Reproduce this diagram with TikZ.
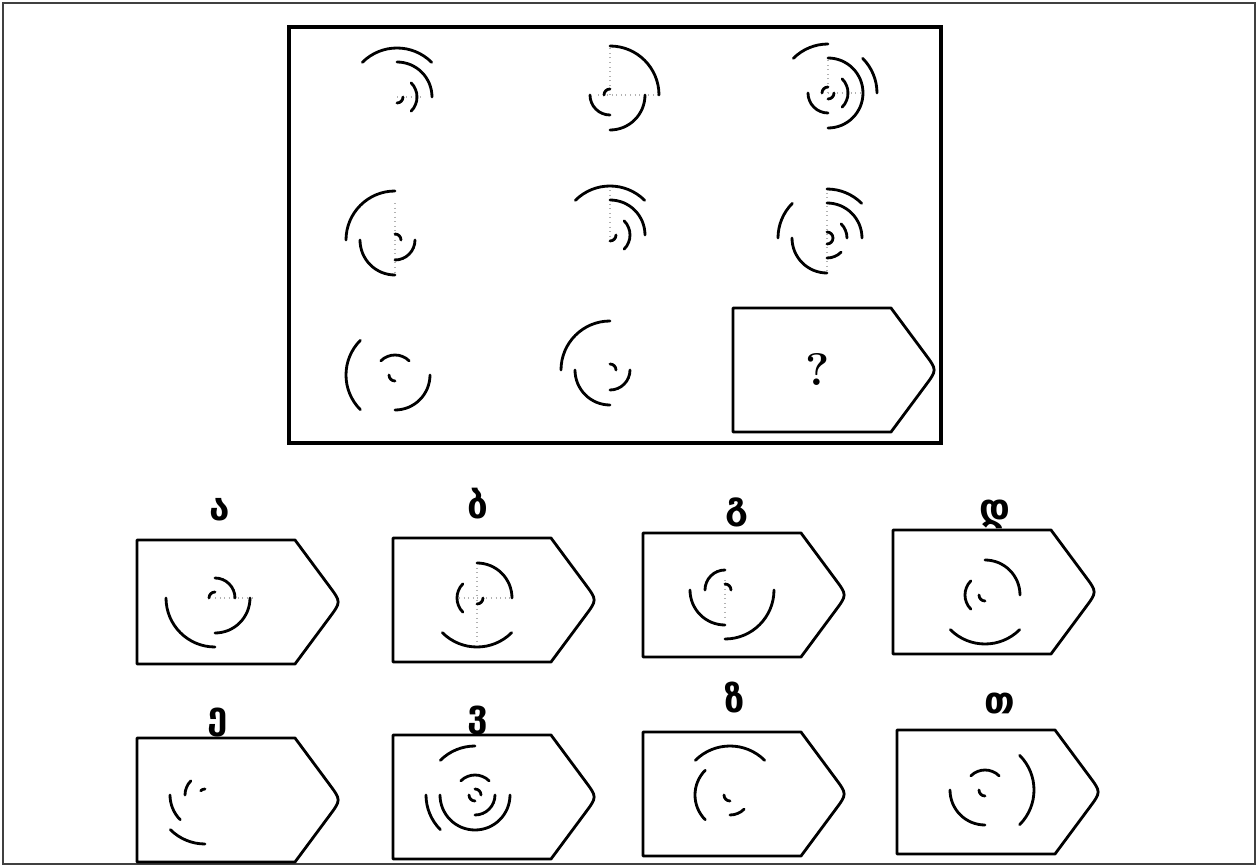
\documentclass[tikz,border=0pt]{standalone}
\usepackage{fontspec}
\usepackage{tikz}
\usetikzlibrary{calc,positioning}
\newfontfamily\geofont{DejaVu Sans}
% tag-shaped answer frame: name, left, top
\newcommand{\tagbox}[3]{%
  \draw[frame] (#2,#3) coordinate (#1) -- ({#2+158},#3) -- ({#2+192.5},{#3-46.5})
    .. controls ({#2+204},{#3-62}) .. ({#2+192.5},{#3-77.5})
    -- ({#2+158},{#3-124}) -- (#2,{#3-124}) -- cycle;}
% concentric quarter arcs round a centre: radius/start/end
\newcommand{\rings}[2]{%
  \foreach \r/\a/\b in {#2}{\draw[ring] (#1) ++(\a:\r) arc[start angle=\a,end angle=\b,radius=\r];}}

\begin{document}
\begin{tikzpicture}[x=0.02cm,y=0.02cm,
  ring/.style={line width=1.6pt,line cap=round},
  frame/.style={line width=1.6pt,line join=round},
  guide/.style={gray!60,dotted,line width=0.6pt},
  letter/.style={font=\geofont\bfseries\fontsize{21}{25}\selectfont,anchor=base}]
  \useasboundingbox (0,0) rectangle (1259,867);
  \draw[line width=1.2pt,black!75] (3,3) rectangle (1255,864);

  % matrix
  \draw[line width=1.8pt] (289,840) rectangle (941,424);
  \coordinate (f1) at (397,770);
  \coordinate (f2) at (610,772);
  \coordinate (f3) at (828,774);
  \coordinate (f4) at (395,627);
  \coordinate (f5) at (610,632);
  \coordinate (f6) at (827,629);
  \coordinate (f7) at (395,492);
  \coordinate (f8) at (610,497);
  \draw[guide] (f1) -- ++(24,0);
  \draw[guide] (f2) ++(-12,0) -- ++(60,0); \draw[guide] (f2) -- ++(0,48);
  \draw[guide] (f3) -- ++(35,0); \draw[guide] (f3) -- ++(0,35);
  \draw[guide] (f4) ++(0,37) -- ++(0,-70);
  \draw[guide] (f5) ++(0,45) -- ++(0,-50);
  \draw[guide] (f6) ++(0,50) -- ++(0,-83);
  \rings{f1}{49/45/135,35/0/90,20/-45/45,6/-90/0}
  \rings{f2}{49/0/90,35/-90/0,20/180/270,6/90/180}
  \rings{f3}{49/0/45,49/90/135,35/-90/90,20/-45/45,20/180/270,6/-90/0,6/90/180}
  \rings{f4}{49/90/180,35/180/270,20/-90/0,6/0/90}
  \rings{f5}{49/45/135,35/0/90,20/-45/45,6/-90/0}
  \rings{f6}{49/45/90,49/135/180,35/0/90,35/180/270,20/0/45,20/-90/-45,6/-90/90}
  \rings{f7}{49/135/225,35/-90/0,20/45/135,6/180/270}
  \rings{f8}{49/90/180,35/180/270,20/-90/0,6/0/90}
  \tagbox{q}{733}{559}
  \node[font=\bfseries\fontsize{26}{30}\selectfont] (mark) at (818,497) {?};

  % answers
  \tagbox{b1}{137}{327}
  \tagbox{b2}{393}{329}
  \tagbox{b3}{643}{334}
  \tagbox{b4}{893}{337}
  \tagbox{b5}{137}{129}
  \tagbox{b6}{393}{132}
  \tagbox{b7}{643}{135}
  \tagbox{b8}{897}{137}
  \node[letter] (l1) at (220,347) {ა};
  \node[letter] (l2) at (478,349) {ბ};
  \node[letter] (l3) at (737,349) {გ};
  \node[letter] (l4) at (995,347) {დ};
  \node[letter] (l5) at (218,139) {ე};
  \node[letter] (l6) at (478,141) {ვ};
  \node[letter] (l7) at (735,155) {ზ};
  \node[letter] (l8) at (1000,154) {თ};
  \coordinate (a1) at (215,269);
  \coordinate (a2) at (477,269);
  \coordinate (a3) at (725,277);
  \coordinate (a4) at (985,272);
  \coordinate (a5) at (205,72);
  \coordinate (a6) at (475,72);
  \coordinate (a7) at (730,72);
  \coordinate (a8) at (985,77);
  \draw[guide] (a1) -- ++(37,0);
  \draw[guide] (a2) ++(-18,0) -- ++(51,0); \draw[guide] (a2) ++(0,35) -- ++(0,-80);
  \draw[guide] (a3) ++(0,10) -- ++(0,-40);
  \rings{a1}{49/180/270,35/-90/0,20/0/90,6/90/180}
  \rings{a2}{49/225/315,35/0/90,20/135/225,6/-90/0}
  \rings{a3}{49/-90/0,35/180/270,20/90/180,6/0/90}
  \rings{a4}{49/225/315,35/0/90,20/135/225,6/180/270}
  \rings{a5}{49/225/270,35/180/225,20/135/180,6/90/135}
  \rings{a6}{49/90/135,49/180/225,35/180/360,20/45/135,20/-90/0,6/180/270,6/0/90}
  \rings{a7}{49/45/135,35/135/225,20/-90/-45,6/180/270}
  \rings{a8}{49/-45/45,35/180/270,20/45/135,6/180/270}
\end{tikzpicture}
\end{document}
